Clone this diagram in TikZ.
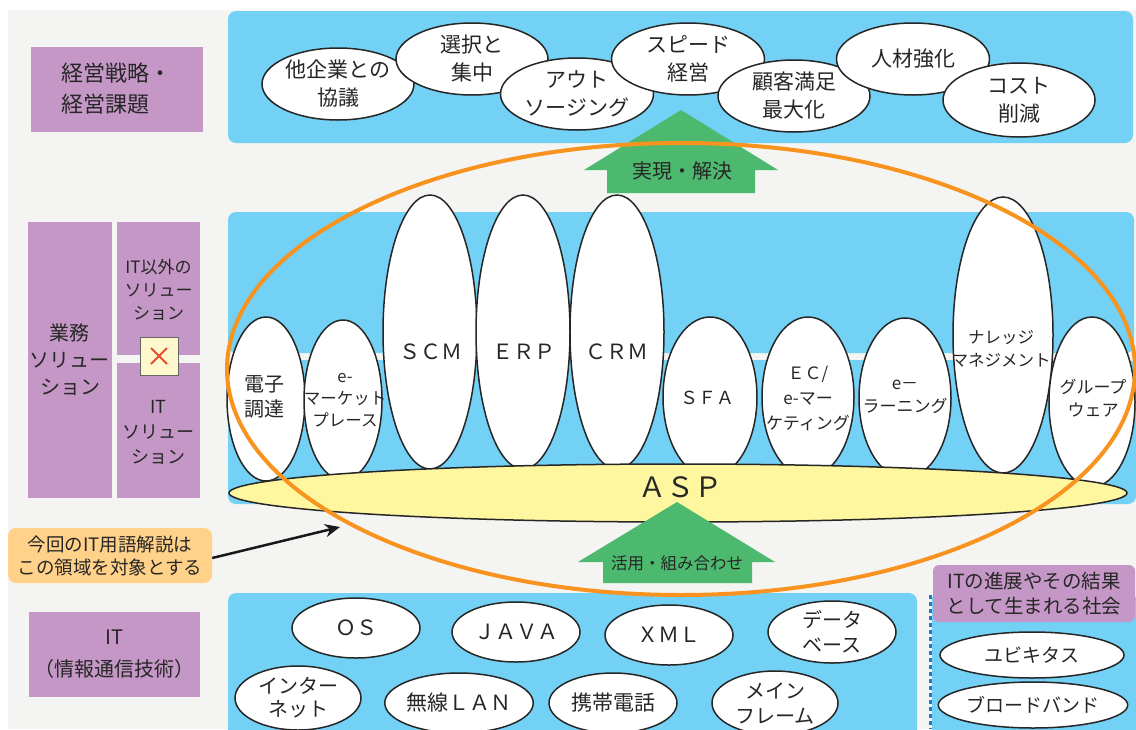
\documentclass[tikz,border=0pt]{standalone}
\usepackage{fontspec}
\setmainfont{Noto Sans CJK JP}
\usetikzlibrary{shapes.geometric,arrows.meta}
\definecolor{bg}{HTML}{F4F4F2}
\definecolor{sky}{HTML}{72D1F5}
\definecolor{lav}{HTML}{C497C6}
\definecolor{grn}{HTML}{4CB96E}
\definecolor{org}{HTML}{F7931E}
\definecolor{aspy}{HTML}{FFF6A0}
\definecolor{callc}{HTML}{FFD189}
\definecolor{xbg}{HTML}{FFF8CC}
\definecolor{txt}{HTML}{262626}
\definecolor{dashc}{HTML}{2577CC}
\definecolor{xred}{HTML}{EE4B2B}
\begin{document}
\begin{tikzpicture}[x=1pt,y=-1pt,
  fs/.style 2 args={font=\fontsize{#1}{#2}\selectfont},
  ell/.style={ellipse, draw=black!85, line width=1.5pt, fill=white, inner sep=0pt, text=txt, align=center},
  tx/.style={text=txt, align=center, inner sep=0pt},
  lab/.style={fill=lav, inner sep=0pt, text=txt, align=center},
  band/.style={fill=sky, rounded corners=8pt},
  garrow/.style={fill=grn}]
\clip (0,0) rectangle (1136,729);
% background
\fill[white] (0,0) rectangle (1136,729);
\fill[bg] (8,10) rectangle (1136,729);
% bands
\fill[band] (228,11) rectangle (1133,143);
\fill[band] (228,212) rectangle (1134,353);
\fill[band] (228,360) rectangle (1136,504);
\fill[band] (228,593) rectangle (917,745);
\fill[sky] (932,597) rectangle (1140,745);
\draw[dashc, line width=3pt, dash pattern=on 4pt off 3pt] (930,595) -- (930,729);
% left labels
\node[lab, minimum width=172pt, minimum height=85pt] (lstrat) at (117,89) {};
\node[tx, fs={22}{31}, align=left] (lstratt) at (116,89) {経営戦略・\\経営課題};
\node[lab, minimum width=84pt, minimum height=276pt, fs={20}{27}] (lbiz) at (70,360) {業務\\ソリュー\\ション};
\node[lab, minimum width=83pt, minimum height=133pt] (lnonit) at (158.5,288.5) {};
\node[tx, fs={17}{23}] (lnonitt) at (158.5,290) {IT以外の\\ソリュー\\ション};
\node[lab, minimum width=83pt, minimum height=135pt] (lit) at (158.5,430.5) {};
\node[tx, fs={18}{25}] (litt) at (158.5,432) {IT\\ソリュー\\ション};
\node[fill=xbg, draw=black!60, line width=0.8pt, minimum width=38pt, minimum height=38pt, inner sep=0pt] (xbox) at (159,356) {};
\draw[xred, line width=2pt] ([shift={(-8,-8)}]xbox.center) -- ([shift={(8,8)}]xbox.center);
\draw[xred, line width=2pt] ([shift={(-8,8)}]xbox.center) -- ([shift={(8,-8)}]xbox.center);
\node[lab, minimum width=171pt, minimum height=85pt, fs={20}{32}] (litlab) at (114.5,654.5) {IT\\（情報通信技術）};
% top ellipses
\node[ell, minimum width=152pt, minimum height=72pt, fs={21}{28}] (t1) at (338,84) {他企業との\\協議};
\node[ell, minimum width=152pt, minimum height=72pt, fs={21}{28}] (t2) at (472,59) {選択と\\集中};
\node[ell, minimum width=153pt, minimum height=72pt, fs={21}{28}] (t3) at (577,94) {アウト\\ソージング};
\node[ell, minimum width=153pt, minimum height=72pt, fs={21}{28}] (t4) at (688,59) {スピード\\経営};
\node[ell, minimum width=152pt, minimum height=72pt, fs={21}{28}] (t5) at (794,96) {顧客満足\\最大化};
\node[ell, minimum width=153pt, minimum height=72pt, fs={21}{28}] (t6) at (913,59) {人材強化};
\node[ell, minimum width=152pt, minimum height=74pt, fs={21}{28}] (t7) at (1019,100) {コスト\\削減};
% top arrow
\fill[garrow] (681,110) -- (778,170) -- (755,170) -- (755,193) -- (607,193) -- (607,170) -- (584,170) -- cycle;
\node[tx, fs={20}{24}] (arrtop) at (682,171) {実現・解決};
% middle ellipses
\node[ell, minimum width=78pt, minimum height=164pt] (m1) at (266,399) {};
\node[tx, fs={20}{25}] (m1t) at (264,397) {電子\\調達};
\node[ell, minimum width=78pt, minimum height=160pt] (m2) at (343,400) {};
\node[tx, fs={16.5}{22}] (m2t) at (345,400) {e-\\マーケット\\プレース};
\node[ell, minimum width=94pt, minimum height=274pt] (m3) at (430,332) {};
\node[tx, fs={21}{25}] (m3t) at (431,352) {ＳＣＭ};
\node[ell, minimum width=94pt, minimum height=274pt] (m4) at (523,332) {};
\node[tx, fs={21}{25}] (m4t) at (524,352) {ＥＲＰ};
\node[ell, minimum width=94pt, minimum height=274pt] (m5) at (617,332) {};
\node[tx, fs={21}{25}] (m5t) at (617,352) {ＣＲＭ};
\node[ell, minimum width=94pt, minimum height=160pt] (m6) at (710,397) {};
\node[tx, fs={18}{22}] (m6t) at (707,398) {ＳＦＡ};
\node[ell, minimum width=92pt, minimum height=160pt] (m7) at (808,397) {};
\node[tx, fs={17}{25}] (m7t) at (808,398) {ＥＣ/\\e-マー\\ケティング};
\node[ell, minimum width=92pt, minimum height=160pt] (m8) at (905,398) {};
\node[tx, fs={17}{23}] (m8t) at (905,397) {e－\\ラーニング};
\node[ell, minimum width=100pt, minimum height=276pt] (m9) at (1003,335) {};
\node[tx, fs={16.5}{23}] (m9t) at (1001,349) {ナレッジ\\マネジメント};
\node[ell, minimum width=86pt, minimum height=170pt] (m10) at (1092,402) {};
\node[tx, fs={17}{23}] (m10t) at (1093,398) {グループ\\ウェア};
% ASP
\node[ell, fill=aspy, minimum width=898pt, minimum height=58pt] (asp) at (678,493) {};
\node[tx, fs={28}{30}] (aspt) at (680,487) {ＡＳＰ};
% bottom arrow
\fill[garrow] (677,502) -- (775,562) -- (752,562) -- (752,583) -- (603,583) -- (603,562) -- (578,562) -- cycle;
\node[tx, fs={16.5}{20}] (arrbot) at (677,563) {活用・組み合わせ};
% bottom ellipses
\node[ell, minimum width=128pt, minimum height=60pt, fs={21}{25}] (b1) at (356,628) {ＯＳ};
\node[ell, minimum width=128pt, minimum height=60pt, fs={21}{25}] (b2) at (516,632) {ＪＡＶＡ};
\node[ell, minimum width=128pt, minimum height=60pt, fs={21}{25}] (b3) at (669,635) {ＸＭＬ};
\node[ell, minimum width=128pt, minimum height=62pt, fs={20}{25}] (b4) at (832,632) {データ\\ベース};
\node[ell, minimum width=126pt, minimum height=64pt, fs={20}{23}] (b5) at (298,698) {インター\\ネット};
\node[ell, minimum width=128pt, minimum height=60pt, fs={21}{25}] (b6) at (459,703) {無線ＬＡＮ};
\node[ell, minimum width=128pt, minimum height=60pt, fs={21}{25}] (b7) at (613,703) {携帯電話};
\node[ell, minimum width=126pt, minimum height=64pt, fs={20}{25}] (b8) at (775,703) {メイン\\フレーム};
% right area
\node[lab, rounded corners=6pt, minimum width=202pt, minimum height=57pt, fs={19.5}{25}] (rlab) at (1034,593.5) {ITの進展やその結果\\として生まれる社会};
\node[ell, minimum width=184pt, minimum height=46pt, fs={19}{23}] (r1) at (1032,655) {ユビキタス};
\node[ell, minimum width=184pt, minimum height=46pt, fs={19}{23}] (r2) at (1033,705) {ブロードバンド};
% callout
\node[fill=callc, rounded corners=8pt, minimum width=204pt, minimum height=55pt, inner sep=0pt, text=txt, align=center, fs={18.5}{23}] (call) at (110,555.5) {今回のIT用語解説は\\この領域を対象とする};
% orange zone
\node[ellipse, draw=org, line width=4pt, minimum width=908pt, minimum height=452pt, inner sep=0pt] (zone) at (681,369) {};
\coordinate (tgt) at (340,527);
\draw[line width=2.5pt, black!90, -{Stealth[length=15pt,width=13pt]}] ([yshift=-2.5pt]call.east) -- (tgt);
\end{tikzpicture}
\end{document}
